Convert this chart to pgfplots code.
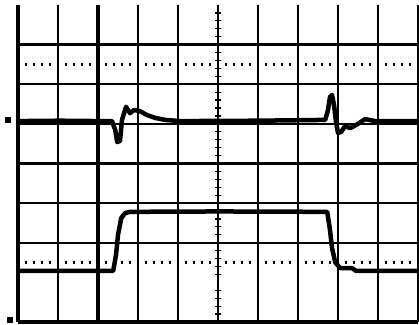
\documentclass[border=0pt]{standalone}
\usepackage{pgfplots}
\pgfplotsset{compat=1.18}
\begin{document}
\begin{tikzpicture}[x=1bp,y=1bp]
\begin{axis}[
    at={(0,0)}, anchor=south west,
    scale only axis,
    width=400bp, height=317bp,
    xmin=0, xmax=10, ymin=0, ymax=8,
    clip=false,
    axis line style={draw=none},
    xtick={0,1,2,3,4,6,7,8,9,10},
    ytick={0,2,3,4,5,6,7},
    xticklabels={}, yticklabels={},
    major tick length=0pt,
    grid=major,
    major grid style={black, line width=2.4bp},
  ]
  % thicker division lines
  \addplot[black, line width=3.2bp] coordinates {(2,0) (2,8)};
  \addplot[black, line width=3.2bp] coordinates {(0,0) (0,8)};
  \addplot[black, line width=3.2bp] coordinates {(0,0) (10,0)};
  % centre axis with small ticks
  \addplot[black, line width=1.3bp] coordinates {(5,0) (5,8)};
  \addplot[only marks, mark=-, mark size=3bp, mark options={line width=1.2bp}] coordinates {
    (5,0.2) (5,0.4) (5,0.6) (5,0.8) (5,1.2) (5,1.4) (5,1.6) (5,1.8)
    (5,2.2) (5,2.4) (5,2.6) (5,2.8) (5,3.2) (5,3.4) (5,3.6) (5,3.8)
    (5,4.2) (5,4.4) (5,4.6) (5,4.8) (5,5.2) (5,5.4) (5,5.6) (5,5.8)
    (5,6.2) (5,6.4) (5,6.6) (5,6.8) (5,7.2) (5,7.4) (5,7.6) (5,7.8)
  };
  % dotted reference lines
  \addplot[black, line width=2.2bp, dash pattern=on 2.2bp off 5.8bp, dash phase=1.1bp] coordinates {(0,6.5) (10,6.5)};
  \addplot[black, line width=2.2bp, dash pattern=on 2.2bp off 5.8bp, dash phase=1.1bp] coordinates {(0,1.5) (10,1.5)};
  % channel 1
  \addplot[black, line width=4.5bp, line join=round] coordinates {
    (0,5.07) (1.05,5.08) (2.05,5.07) (2.35,5.07) (2.43,4.85) (2.48,4.54)
    (2.55,4.57) (2.60,5.10) (2.70,5.43) (2.80,5.27) (2.90,5.35) (3.05,5.32)
    (3.23,5.22) (3.43,5.15) (3.68,5.10) (4.05,5.07) (6.00,5.08) (7.68,5.10)
    (7.75,5.35) (7.80,5.68) (7.85,5.73) (7.90,5.48) (7.95,5.05) (8.00,4.77)
    (8.08,4.80) (8.18,4.95) (8.30,4.89) (8.45,4.97) (8.68,5.12) (8.93,5.07)
    (10,5.07)
  };
  % channel 2
  \addplot[black, line width=4.5bp, line join=round] coordinates {
    (0,1.29) (2.38,1.29) (2.45,1.69) (2.50,2.20) (2.58,2.62) (2.68,2.75)
    (2.80,2.78) (5.00,2.79) (7.73,2.78) (7.80,2.32) (7.85,1.87) (7.93,1.51)
    (8.05,1.36) (8.35,1.36) (8.45,1.29) (10,1.29)
  };
  % channel ground markers
  \addplot[only marks, mark=square*, mark size=2.5bp] coordinates {(-0.25,5.1) (-0.2,0.05)};
  \coordinate (bl) at (rel axis cs:0,0);
  \coordinate (tr) at (rel axis cs:1,1);
\end{axis}
\pgfresetboundingbox
\path ([shift={(-18bp,-3bp)}]bl) rectangle ([shift={(1bp,5bp)}]tr);
\end{tikzpicture}
\end{document}
